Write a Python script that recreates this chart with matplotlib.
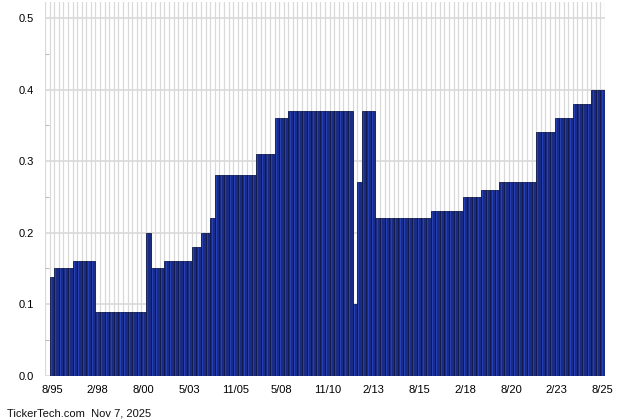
import matplotlib
matplotlib.use("Agg")
import matplotlib.pyplot as plt
import numpy as np

plt.rcParams['font.family'] = ['Liberation Sans', 'DejaVu Sans']

# Dividend levels (value, number of consecutive quarterly payments)
levels = [0.138, 0.15, 0.16, 0.089, 0.20, 0.15, 0.16, 0.18, 0.20, 0.22,
          0.28, 0.31, 0.36, 0.37, 0.10, 0.27, 0.37, 0.22, 0.23, 0.25,
          0.26, 0.27, 0.34, 0.36, 0.38, 0.40]
counts = [1, 4, 5, 11, 1, 3, 6, 2, 2, 1,
          9, 4, 3, 14, 1, 1, 3, 12, 7, 4,
          4, 8, 4, 4, 4, 3]
values = [v for v, c in zip(levels, counts) for _ in range(c)]

tick_labels = ["8/95", "2/98", "8/00", "5/03", "11/05", "5/08", "11/10",
               "2/13", "8/15", "2/18", "8/20", "2/23", "8/25"]
tick_index = [0, 10, 20, 30, 40, 50, 60, 70, 80, 90, 100, 110, 120]
y_ticks = [0.0, 0.1, 0.2, 0.3, 0.4, 0.5]

fig = plt.figure(figsize=(6.4, 4.2), dpi=100)
ax = fig.add_axes([45/640, (420-375.5)/420, 560/640, 373.5/420])

n = len(values)
x = np.arange(n)
grid_c = '#d9d9d9'
for gx in range(-1, n + 1):
    ax.axvline(gx, color=grid_c, lw=0.9, zorder=0)
for gy in y_ticks:
    ax.axhline(gy, color=grid_c, lw=1.2, zorder=0)

ax.bar(x, values, width=1.0, align='edge', color='#1a2b84',
       edgecolor='#0e1848', linewidth=0.6, zorder=2)
# lighter highlight stripe inside each bar
ax.vlines(x + 0.28, 0, values, color='#2740b4', lw=0.7, zorder=3)

ax.set_xlim(-1, n)
ax.set_ylim(0, 0.5224)
ax.set_yticks(y_ticks)
ax.set_yticklabels([f"{v:.1f}" for v in y_ticks], fontsize=8)
ax.set_yticks(np.arange(0.05, 0.5, 0.1), minor=True)
ax.tick_params(axis='y', which='major', length=0, pad=8)
ax.tick_params(axis='y', which='minor', direction='in', length=3,
               color='#bbbbbb', width=0.8)
ax.set_xticks([i + 0.5 for i in tick_index])
ax.set_xticklabels(tick_labels, fontsize=8)
ax.tick_params(axis='x', length=0, pad=7)
for s in ax.spines.values():
    s.set_visible(False)

fig.text(7/640, 1 - 414/420, "TickerTech.com  Nov 7, 2025", fontsize=8,
         va='center', ha='left', color='#111111')

fig.savefig("out.png", dpi=100)
